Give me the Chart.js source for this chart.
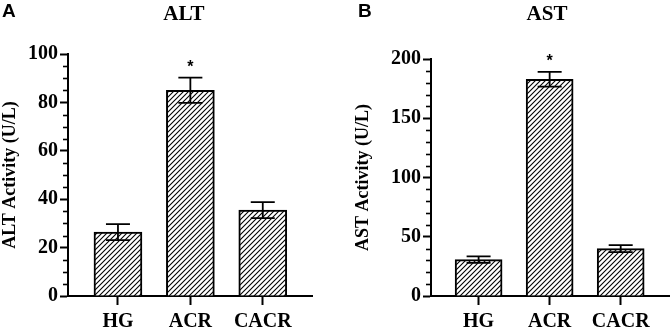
<!DOCTYPE html>
<html><head><meta charset="utf-8">
<script src="https://cdn.jsdelivr.net/npm/chart.js@4"></script>
<style>
html,body{margin:0;padding:0;background:#fff;}
#wrap{position:relative;width:671px;height:330px;overflow:hidden;background:#fff;}
canvas{position:absolute;top:0;}
.lbl{position:absolute;font:bold 19px "Liberation Sans",Arial,sans-serif;color:#000;line-height:19px;}
.ttl{position:absolute;font:bold 21px "Liberation Serif","Times New Roman",serif;color:#000;line-height:21px;width:100px;text-align:center;}
</style></head><body>
<div id="wrap">
<canvas id="cA" width="335" height="330" style="left:0"></canvas>
<canvas id="cB" width="335" height="330" style="left:336px"></canvas>
<div class="lbl" style="left:2px;top:1px">A</div>
<div class="lbl" style="left:358px;top:1px">B</div>
<div class="ttl" style="left:134px;top:3px">ALT</div>
<div class="ttl" style="left:497px;top:3px">AST</div>
</div>
<script>
// ---- data ----
const categories = ['HG', 'ACR', 'CACR'];
const altMean = [26.4, 85.0, 35.5];
const altSD   = [3.3, 5.2, 3.3];
const altSig  = ['', '*', ''];
const astMean = [30.7, 182.9, 40.0];
const astSD   = [2.8, 6.2, 3.0];
const astSig  = ['', '*', ''];
const altYTicks = [0, 20, 40, 60, 80, 100];
const astYTicks = [0, 50, 100, 150, 200];
const altMinorStep = 5;
const astMinorStep = 10;

// ---- hatch pattern ----
function hatch() {
  const s = 5;
  const p = document.createElement('canvas');
  p.width = s; p.height = s;
  const c = p.getContext('2d');
  c.fillStyle = '#fff'; c.fillRect(0, 0, s, s);
  c.strokeStyle = '#000'; c.lineWidth = 1.1;
  c.beginPath();
  c.moveTo(0, s); c.lineTo(s, 0);
  c.moveTo(-1, 1); c.lineTo(1, -1);
  c.moveTo(s - 1, s + 1); c.lineTo(s + 1, s - 1);
  c.stroke();
  return p.getContext('2d').createPattern(p, 'repeat');
}

const serif = '"Liberation Serif","Times New Roman",serif';

function makeChart(id, means, sds, sig, yTicks, minorStep, title, geom) {
  const ctx = document.getElementById(id).getContext('2d');
  const yMax = yTicks[yTicks.length - 1];
  const yStep = yTicks[1] - yTicks[0];
  const extras = {
    id: 'extras',
    afterDatasetsDraw(chart) {
      const c = chart.ctx, xs = chart.scales.x, ys = chart.scales.y;
      c.save();
      c.strokeStyle = '#000';
      c.lineWidth = 1.8;
      means.forEach((m, i) => {
        const x = xs.getPixelForValue(i);
        const yt = ys.getPixelForValue(m + sds[i]);
        const yb = ys.getPixelForValue(m - sds[i]);
        c.beginPath();
        c.moveTo(x, yt); c.lineTo(x, yb);
        c.moveTo(x - 12, yt); c.lineTo(x + 12, yt);
        c.moveTo(x - 12, yb); c.lineTo(x + 12, yb);
        c.stroke();
        if (sig[i]) {
          c.fillStyle = '#000';
          c.font = 'bold 16px "Liberation Sans",Arial,sans-serif';
          c.textAlign = 'center';
          c.textBaseline = 'middle';
          c.fillText(sig[i], x, yt - 10);
        }
      });
      // minor ticks on y axis
      c.lineWidth = 1.6;
      const ax = chart.chartArea.left;
      for (let v = minorStep; v < yMax; v += minorStep) {
        if (v % yStep === 0) continue;
        const y = Math.round(ys.getPixelForValue(v)) + 0.5;
        c.beginPath(); c.moveTo(ax - 5, y); c.lineTo(ax, y); c.stroke();
      }
      c.restore();
    }
  };
  return new Chart(ctx, {
    type: 'bar',
    data: {
      datasets: [{
        data: means.map((v, i) => ({x: i, y: v})),
        backgroundColor: hatch(),
        borderColor: '#000',
        borderWidth: 2,
        barThickness: geom.barW
      }]
    },
    options: {
      responsive: false,
      animation: false,
      devicePixelRatio: 1,
      layout: {padding: geom.pad},
      plugins: {legend: {display: false}, tooltip: {enabled: false}, title: {display: false}},
      scales: {
        x: {
          type: 'linear',
          min: geom.xMin, max: geom.xMax,
          bounds: 'data',
          offset: false,
          afterFit: s => { s.height = 34; },
          afterBuildTicks: s => { s.ticks = categories.map((c, i) => ({value: i})); },
          border: {display: true, color: '#000', width: 2},
          grid: {offset: false, drawOnChartArea: false, drawTicks: true, tickLength: 9, tickWidth: 2, tickColor: '#000', color: '#000'},
          ticks: {
            autoSkip: false, maxRotation: 0,
            padding: 5, color: '#000',
            font: {family: serif, size: 20, weight: 'bold'},
            callback: v => categories[Math.round(v)]
          }
        },
        y: {
          min: 0, max: yMax,
          afterFit: s => { s.width = geom.yW; },
          border: {display: true, color: '#000', width: 2},
          grid: {drawOnChartArea: false, drawTicks: true, tickLength: 8, tickWidth: 2, tickColor: '#000', color: '#000'},
          afterBuildTicks: s => { s.ticks = yTicks.map(v => ({value: v})); },
          ticks: {
            padding: 2, color: '#000',
            font: {family: serif, size: 20, weight: 'bold'}
          },
          title: {
            display: true, text: title, color: '#000',
            font: {family: serif, size: 18, weight: 'bold'},
            padding: 0
          }
        }
      }
    },
    plugins: [extras]
  });
}

makeChart('cA', altMean, altSD, altSig, altYTicks, altMinorStep, 'ALT Activity (U/L)',
  {pad: {left: 0, right: 23, top: 54, bottom: 0}, yW: 68, xMin: -0.69, xMax: 2.68, barW: 48});
makeChart('cB', astMean, astSD, astSig, astYTicks, astMinorStep, 'AST Activity (U/L)',
  {pad: {left: 17, right: 2, top: 59, bottom: 0}, yW: 78, xMin: -0.67, xMax: 2.68, barW: 47});
</script>
</body></html>
